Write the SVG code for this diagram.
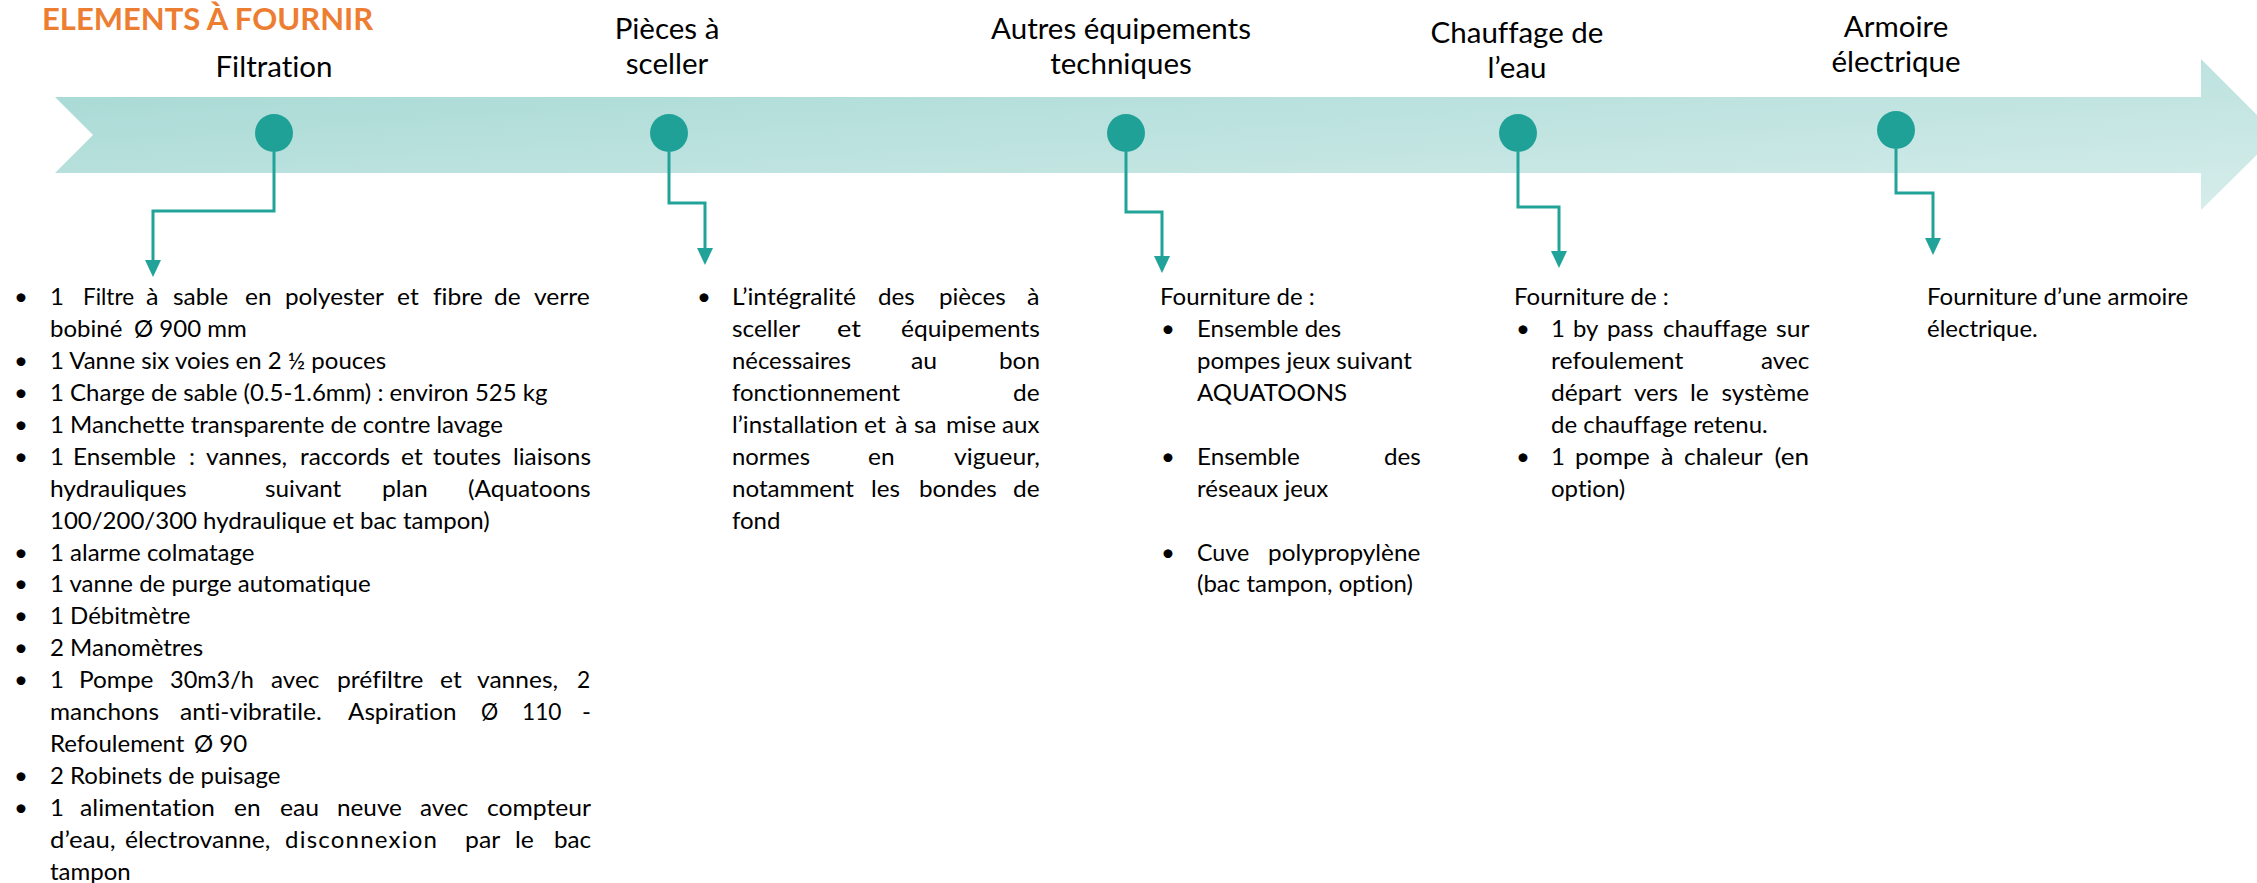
<svg xmlns="http://www.w3.org/2000/svg" width="2257" height="883" viewBox="0 0 2257 883">
<style>
text{font-variant-ligatures:none;font-feature-settings:"liga" 0,"dlig" 0}
.title{font-family:Lato,"Liberation Sans",sans-serif;font-weight:bold;font-size:31px;fill:#ED7D31}
.hdr{font-family:Lato,"Liberation Sans",sans-serif;font-size:29.5px;fill:#000;text-anchor:middle}
.txt{font-family:Lato,"Liberation Sans",sans-serif;font-size:24px;fill:#000}
.dot{fill:#1FA198}
.conn{fill:none;stroke:#22A39A;stroke-width:3}
</style>
<defs>
<linearGradient id="band" x1="0" y1="0" x2="1" y2="1">
<stop offset="0" stop-color="#A4D8D3"/>
<stop offset="1" stop-color="#D6EDEB"/>
</linearGradient>
<marker id="arr" viewBox="0 -9 18 18" refX="7" refY="0" markerWidth="18" markerHeight="18" markerUnits="userSpaceOnUse" orient="auto">
<path d="M0,-8 L17,0 L0,8 Z" fill="#22A39A"/>
</marker>
</defs>
<rect width="2257" height="883" fill="#fff"/>
<text class="title" x="42" y="30">ELEMENTS À FOURNIR</text>
<path id="timeline" d="M55,97 L2201,97 L2201,59 L2277,135 L2201,210 L2201,173 L55,173 L93,135 Z" fill="url(#band)"/>
<g id="connectors">
<path class="conn" d="M274,152 V211 H153 V267" marker-end="url(#arr)"/>
<path class="conn" d="M669,152 V203 H705 V255" marker-end="url(#arr)"/>
<path class="conn" d="M1126,152 V212 H1162 V263" marker-end="url(#arr)"/>
<path class="conn" d="M1518,152 V207 H1559 V258" marker-end="url(#arr)"/>
<path class="conn" d="M1896,149 V193 H1933 V245" marker-end="url(#arr)"/>
</g>
<g id="node-filtration">
<circle class="dot" cx="274" cy="133" r="19"/>
<text class="hdr" x="274" y="77">Filtration</text>
<text class="txt">
<tspan x="14" y="305">•</tspan><tspan x="50" y="305">1</tspan><tspan x="83" y="305" textLength="51" lengthAdjust="spacingAndGlyphs">Filtre</tspan><tspan x="146" y="305" textLength="12.5" lengthAdjust="spacingAndGlyphs">à</tspan><tspan x="173" y="305" textLength="55.2" lengthAdjust="spacingAndGlyphs">sable</tspan><tspan x="245" y="305" textLength="26.6" lengthAdjust="spacingAndGlyphs">en</tspan><tspan x="285" y="305" textLength="98.9" lengthAdjust="spacingAndGlyphs">polyester</tspan><tspan x="397" y="305" textLength="21.7" lengthAdjust="spacingAndGlyphs">et</tspan><tspan x="433" y="305" textLength="49.6" lengthAdjust="spacingAndGlyphs">fibre</tspan><tspan x="494" y="305" textLength="26.6" lengthAdjust="spacingAndGlyphs">de</tspan><tspan x="534" y="305" textLength="55.8" lengthAdjust="spacingAndGlyphs">verre</tspan>
<tspan x="50" y="337">bobiné</tspan><tspan x="134" y="337">Ø 900 mm</tspan>
<tspan x="14" y="369">•</tspan><tspan x="50" y="369">1 Vanne six voies en 2 ½ pouces</tspan>
<tspan x="14" y="401">•</tspan><tspan x="50" y="401">1 Charge de sable (0.5-1.6mm) : environ 525 kg</tspan>
<tspan x="14" y="433">•</tspan><tspan x="50" y="433">1 Manchette transparente  de contre  lavage</tspan>
<tspan x="14" y="465">•</tspan><tspan x="50" y="465">1</tspan><tspan x="73" y="465" textLength="102.8" lengthAdjust="spacingAndGlyphs">Ensemble</tspan><tspan x="189" y="465">:</tspan><tspan x="206" y="465" textLength="81.1" lengthAdjust="spacingAndGlyphs">vannes,</tspan><tspan x="300" y="465" textLength="90.1" lengthAdjust="spacingAndGlyphs">raccords</tspan><tspan x="401" y="465" textLength="21.7" lengthAdjust="spacingAndGlyphs">et</tspan><tspan x="433" y="465" textLength="67.9" lengthAdjust="spacingAndGlyphs">toutes</tspan><tspan x="513" y="465" textLength="78" lengthAdjust="spacingAndGlyphs">liaisons</tspan>
<tspan x="50" y="497" textLength="136.6" lengthAdjust="spacingAndGlyphs">hydrauliques</tspan><tspan x="265" y="497" textLength="76.3" lengthAdjust="spacingAndGlyphs">suivant</tspan><tspan x="382" y="497" textLength="45.7" lengthAdjust="spacingAndGlyphs">plan</tspan><tspan x="468" y="497" textLength="122.6" lengthAdjust="spacingAndGlyphs">(Aquatoons</tspan>
<tspan x="50" y="529">100/200/300 hydraulique  et bac tampon)</tspan>
<tspan x="14" y="561">•</tspan><tspan x="50" y="561">1 alarme colmatage</tspan>
<tspan x="14" y="592">•</tspan><tspan x="50" y="592">1 vanne de purge automatique</tspan>
<tspan x="14" y="624">•</tspan><tspan x="50" y="624">1 Débitmètre</tspan>
<tspan x="14" y="656">•</tspan><tspan x="50" y="656">2 Manomètres</tspan>
<tspan x="14" y="688">•</tspan><tspan x="50" y="688">1</tspan><tspan x="79" y="688" textLength="74.5" lengthAdjust="spacingAndGlyphs">Pompe</tspan><tspan x="170" y="688" textLength="84" lengthAdjust="spacingAndGlyphs">30m3/h</tspan><tspan x="271" y="688" textLength="48.2" lengthAdjust="spacingAndGlyphs">avec</tspan><tspan x="337" y="688" textLength="86.2" lengthAdjust="spacingAndGlyphs">préfiltre</tspan><tspan x="440" y="688" textLength="21.7" lengthAdjust="spacingAndGlyphs">et</tspan><tspan x="477" y="688" textLength="81.1" lengthAdjust="spacingAndGlyphs">vannes,</tspan><tspan x="577" y="688" textLength="13.2" lengthAdjust="spacingAndGlyphs">2</tspan>
<tspan x="50" y="720" textLength="109" lengthAdjust="spacingAndGlyphs">manchons</tspan><tspan x="180" y="720" textLength="141.7" lengthAdjust="spacingAndGlyphs">anti-vibratile.</tspan><tspan x="348" y="720" textLength="108.4" lengthAdjust="spacingAndGlyphs">Aspiration</tspan><tspan x="481" y="720" textLength="17.2" lengthAdjust="spacingAndGlyphs">Ø</tspan><tspan x="522" y="720" textLength="39.5" lengthAdjust="spacingAndGlyphs">110</tspan><tspan x="582" y="720">-</tspan>
<tspan x="50" y="752">Refoulement</tspan><tspan x="194" y="752">Ø 90</tspan>
<tspan x="14" y="784">•</tspan><tspan x="50" y="784">2 Robinets  de puisage</tspan>
<tspan x="14" y="816">•</tspan><tspan x="50" y="816">1</tspan><tspan x="80" y="816" textLength="134.9" lengthAdjust="spacingAndGlyphs">alimentation</tspan><tspan x="234" y="816" textLength="26.6" lengthAdjust="spacingAndGlyphs">en</tspan><tspan x="280" y="816" textLength="39.1" lengthAdjust="spacingAndGlyphs">eau</tspan><tspan x="337" y="816" textLength="64.9" lengthAdjust="spacingAndGlyphs">neuve</tspan><tspan x="420" y="816" textLength="48.2" lengthAdjust="spacingAndGlyphs">avec</tspan><tspan x="487" y="816" textLength="103.5" lengthAdjust="spacingAndGlyphs">compteur</tspan>
<tspan x="50" y="848" textLength="65.7" lengthAdjust="spacingAndGlyphs">d’eau,</tspan><tspan x="125" y="848" textLength="145.3" lengthAdjust="spacingAndGlyphs">électrovanne,</tspan><tspan x="285" y="848" textLength="152" lengthAdjust="spacing">disconnexion</tspan><tspan x="465" y="848" textLength="35.2" lengthAdjust="spacingAndGlyphs">par</tspan><tspan x="515" y="848" textLength="18.9" lengthAdjust="spacingAndGlyphs">le</tspan><tspan x="554" y="848" textLength="37.1" lengthAdjust="spacingAndGlyphs">bac</tspan>
<tspan x="50" y="880">tampon</tspan>
</text>
</g>
<g id="node-pieces">
<circle class="dot" cx="669" cy="133" r="19"/>
<text class="hdr" x="667" y="39">Pièces à</text>
<text class="hdr" x="667" y="74">sceller</text>
<text class="txt">
<tspan x="697" y="305">•</tspan><tspan x="732" y="305" textLength="124" lengthAdjust="spacingAndGlyphs">L’intégralité</tspan><tspan x="878" y="305" textLength="36.8" lengthAdjust="spacingAndGlyphs">des</tspan><tspan x="939" y="305" textLength="66.7" lengthAdjust="spacingAndGlyphs">pièces</tspan><tspan x="1027" y="305" textLength="12.5" lengthAdjust="spacingAndGlyphs">à</tspan>
<tspan x="732" y="337" textLength="68" lengthAdjust="spacingAndGlyphs">sceller</tspan><tspan x="837" y="337" textLength="24" lengthAdjust="spacingAndGlyphs">et</tspan><tspan x="901" y="337" textLength="139" lengthAdjust="spacingAndGlyphs">équipements</tspan>
<tspan x="732" y="369" textLength="119" lengthAdjust="spacingAndGlyphs">nécessaires</tspan><tspan x="911" y="369" textLength="26.1" lengthAdjust="spacingAndGlyphs">au</tspan><tspan x="999" y="369" textLength="41" lengthAdjust="spacingAndGlyphs">bon</tspan>
<tspan x="732" y="401" textLength="168" lengthAdjust="spacingAndGlyphs">fonctionnement</tspan><tspan x="1013" y="401" textLength="26.6" lengthAdjust="spacingAndGlyphs">de</tspan>
<tspan x="732" y="433" textLength="126" lengthAdjust="spacingAndGlyphs">l’installation</tspan><tspan x="864" y="433" textLength="22" lengthAdjust="spacingAndGlyphs">et</tspan><tspan x="895" y="433" textLength="12.5" lengthAdjust="spacingAndGlyphs">à</tspan><tspan x="914" y="433" textLength="22.6" lengthAdjust="spacingAndGlyphs">sa</tspan><tspan x="946" y="433" textLength="50" lengthAdjust="spacingAndGlyphs">mise</tspan><tspan x="1002" y="433" textLength="37.4" lengthAdjust="spacingAndGlyphs">aux</tspan>
<tspan x="732" y="465" textLength="78" lengthAdjust="spacingAndGlyphs">normes</tspan><tspan x="868" y="465" textLength="26.6" lengthAdjust="spacingAndGlyphs">en</tspan><tspan x="954" y="465" textLength="85.8" lengthAdjust="spacingAndGlyphs">vigueur,</tspan>
<tspan x="732" y="497" textLength="122" lengthAdjust="spacingAndGlyphs">notamment</tspan><tspan x="871" y="497" textLength="29" lengthAdjust="spacingAndGlyphs">les</tspan><tspan x="919" y="497" textLength="77.8" lengthAdjust="spacingAndGlyphs">bondes</tspan><tspan x="1013" y="497" textLength="26.6" lengthAdjust="spacingAndGlyphs">de</tspan>
<tspan x="732" y="529">fond</tspan>
</text>
</g>
<g id="node-autres">
<circle class="dot" cx="1126" cy="133" r="19"/>
<text class="hdr" x="1121" y="39">Autres équipements</text>
<text class="hdr" x="1121" y="74">techniques</text>
<text class="txt">
<tspan x="1160" y="305">Fourniture  de :</tspan>
<tspan x="1161" y="337">•</tspan><tspan x="1197" y="337">Ensemble des</tspan>
<tspan x="1197" y="369">pompes jeux suivant</tspan>
<tspan x="1197" y="401">AQUATOONS</tspan>
<tspan x="1161" y="465">•</tspan><tspan x="1197" y="465" textLength="102.8" lengthAdjust="spacingAndGlyphs">Ensemble</tspan><tspan x="1384" y="465" textLength="36.8" lengthAdjust="spacingAndGlyphs">des</tspan>
<tspan x="1197" y="497">réseaux jeux</tspan>
<tspan x="1161" y="561">•</tspan><tspan x="1197" y="561" textLength="52.2" lengthAdjust="spacingAndGlyphs">Cuve</tspan><tspan x="1268" y="561" textLength="152.4" lengthAdjust="spacingAndGlyphs">polypropylène</tspan>
<tspan x="1197" y="592">(bac tampon, option)</tspan>
</text>
</g>
<g id="node-chauffage">
<circle class="dot" cx="1518" cy="133" r="19"/>
<text class="hdr" x="1517" y="43">Chauffage de</text>
<text class="hdr" x="1517" y="78">l’eau</text>
<text class="txt">
<tspan x="1514" y="305">Fourniture  de :</tspan>
<tspan x="1516" y="337">•</tspan><tspan x="1551" y="337">1</tspan><tspan x="1573" y="337" textLength="25.4" lengthAdjust="spacingAndGlyphs">by</tspan><tspan x="1607" y="337" textLength="46.4" lengthAdjust="spacingAndGlyphs">pass</tspan><tspan x="1663" y="337" textLength="104.3" lengthAdjust="spacingAndGlyphs">chauffage</tspan><tspan x="1776" y="337" textLength="32.9" lengthAdjust="spacingAndGlyphs">sur</tspan>
<tspan x="1551" y="369" textLength="132.3" lengthAdjust="spacingAndGlyphs">refoulement</tspan><tspan x="1761" y="369" textLength="48.2" lengthAdjust="spacingAndGlyphs">avec</tspan>
<tspan x="1551" y="401" textLength="70.5" lengthAdjust="spacingAndGlyphs">départ</tspan><tspan x="1634" y="401" textLength="43.9" lengthAdjust="spacingAndGlyphs">vers</tspan><tspan x="1690" y="401" textLength="18.9" lengthAdjust="spacingAndGlyphs">le</tspan><tspan x="1721.5" y="401" textLength="87.5" lengthAdjust="spacingAndGlyphs">système</tspan>
<tspan x="1551" y="433">de chauffage retenu.</tspan>
<tspan x="1516" y="465">•</tspan><tspan x="1551" y="465">1</tspan><tspan x="1575" y="465" textLength="74.7" lengthAdjust="spacingAndGlyphs">pompe</tspan><tspan x="1661" y="465" textLength="12.5" lengthAdjust="spacingAndGlyphs">à</tspan><tspan x="1684" y="465" textLength="78.7" lengthAdjust="spacingAndGlyphs">chaleur</tspan><tspan x="1774.5" y="465" textLength="34.5" lengthAdjust="spacingAndGlyphs">(en</tspan>
<tspan x="1551" y="497">option)</tspan>
</text>
</g>
<g id="node-armoire">
<circle class="dot" cx="1896" cy="130" r="19"/>
<text class="hdr" x="1896" y="37">Armoire</text>
<text class="hdr" x="1896" y="72">électrique</text>
<text class="txt">
<tspan x="1927" y="305">Fourniture  d’une armoire</tspan>
<tspan x="1927" y="337">électrique.</tspan>
</text>
</g>
</svg>
